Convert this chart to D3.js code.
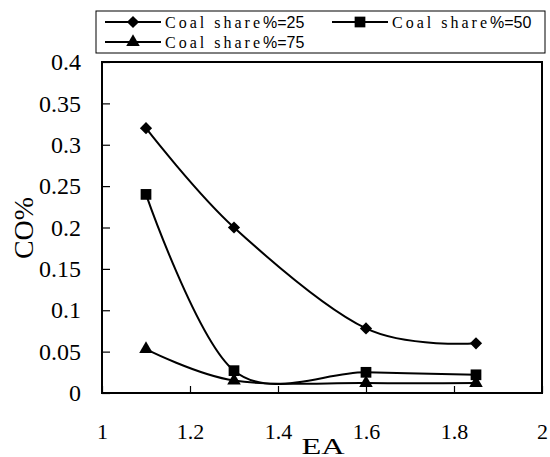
<!DOCTYPE html>
<html>
<head>
<meta charset="utf-8">
<script src="https://cdnjs.cloudflare.com/ajax/libs/d3/7.8.5/d3.min.js"></script>
<style>
  body { margin: 0; background: #fff; }
  svg { display: block; }
  text { fill: #000; }
</style>
</head>
<body>
<svg id="chart" width="550" height="457"></svg>
<script>
// values
var ea = [1.1, 1.3, 1.6, 1.85];
var coal25 = [0.32, 0.2, 0.078, 0.06];
var coal50 = [0.24, 0.027, 0.025, 0.022];
var coal75 = [0.053, 0.015, 0.012, 0.012];
var seriesNames = ['25', '50', '75'];
var xTicks = [1, 1.2, 1.4, 1.6, 1.8, 2];
var yTicks = [0, 0.05, 0.1, 0.15, 0.2, 0.25, 0.3, 0.35, 0.4];

var svg = d3.select('#chart');
// note: "top" is taken by window.top, so use plot* names
var plotLeft = 102, plotRight = 542, plotTop = 62, plotBottom = 393;

var x = d3.scaleLinear().domain([1, 2]).range([plotLeft, plotRight]);
var y = d3.scaleLinear().domain([0, 0.4]).range([plotBottom, plotTop]);

var serif = 'Liberation Serif, Times New Roman, serif';

// plot frame
svg.append('rect')
  .attr('x', plotLeft).attr('y', plotTop)
  .attr('width', plotRight - plotLeft).attr('height', plotBottom - plotTop)
  .attr('fill', 'none').attr('stroke', '#000').attr('stroke-width', 2);

// axes, ticks pointing inside
var yAxis = svg.append('g')
  .attr('transform', 'translate(' + plotLeft + ',0)')
  .call(d3.axisLeft(y).tickValues(yTicks).tickSize(-8).tickPadding(21)
    .tickFormat(function(d) { return String(+d.toFixed(2)); }));
var xAxis = svg.append('g')
  .attr('transform', 'translate(0,' + plotBottom + ')')
  .call(d3.axisBottom(x).tickValues(xTicks).tickSize(-7).tickPadding(30)
    .tickFormat(function(d) { return String(d); }));

[yAxis, xAxis].forEach(function(g) {
  g.select('.domain').remove();
  g.selectAll('line').attr('stroke', '#000').attr('stroke-width', 1.2);
  g.selectAll('text').attr('font-family', serif).attr('fill', '#000');
});
yAxis.selectAll('text').attr('font-size', 24);
xAxis.selectAll('text').attr('font-size', 22);

// axis titles (the original type is drawn wide)
svg.append('text')
  .attr('transform', 'translate(323,454) scale(1.35,1)')
  .attr('text-anchor', 'middle')
  .attr('font-family', serif).attr('font-size', 24)
  .text('EA');
svg.append('text')
  .attr('transform', 'translate(33,228) rotate(-90)')
  .attr('text-anchor', 'middle')
  .attr('font-family', serif).attr('font-size', 28)
  .text('CO%');

// markers
var diamond = d3.symbol().type(d3.symbolDiamond2).size(95);
var square = d3.symbol().type(d3.symbolSquare).size(115);
var triangle = d3.symbol().type(d3.symbolTriangle).size(80);
var shapes = [diamond, square, triangle];
var allSeries = [coal25, coal50, coal75];

// Excel-style smoothed line
var line = d3.line()
  .x(function(d, i) { return x(ea[i]); })
  .y(function(d) { return y(d); })
  .curve(d3.curveCardinal.tension(0));

allSeries.forEach(function(vals, s) {
  svg.append('path')
    .attr('d', line(vals))
    .attr('fill', 'none').attr('stroke', '#000').attr('stroke-width', 2);
  svg.selectAll('.m' + s)
    .data(vals)
    .enter().append('path')
    .attr('class', 'm' + s)
    .attr('transform', function(d, i) { return 'translate(' + x(ea[i]) + ',' + y(d) + ')'; })
    .attr('d', shapes[s])
    .attr('fill', '#000');
});

// legend
var legend = svg.append('g');
legend.append('rect')
  .attr('x', 96).attr('y', 11).attr('width', 449).attr('height', 42)
  .attr('fill', '#fff').attr('stroke', '#000').attr('stroke-width', 1);

var legendPos = [[105, 22], [332, 22], [105, 42]];
seriesNames.forEach(function(name, s) {
  var p = legendPos[s];
  var item = legend.append('g').attr('transform', 'translate(' + p[0] + ',' + p[1] + ')');
  item.append('line')
    .attr('x1', 0).attr('x2', 56).attr('y1', 0).attr('y2', 0)
    .attr('stroke', '#000').attr('stroke-width', 2);
  item.append('path')
    .attr('transform', 'translate(28,0)')
    .attr('d', shapes[s]).attr('fill', '#000');
  var t = item.append('text')
    .attr('x', 60).attr('y', 5.5)
    .attr('font-size', 16);
  t.append('tspan')
    .attr('font-family', serif).attr('letter-spacing', 3)
    .text('Coal share');
  t.append('tspan')
    .attr('font-family', 'Liberation Sans, Arial, sans-serif')
    .text('%=' + name);
});
</script>
</body>
</html>
